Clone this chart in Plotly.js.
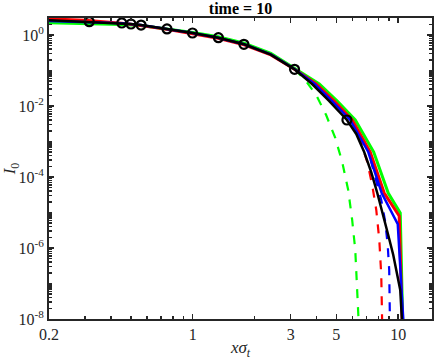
<!DOCTYPE html>
<html>
<head>
<meta charset="utf-8">
<script src="https://cdn.plot.ly/plotly-3.0.1.min.js"></script>
<style>
  body { margin: 0; background: #fff; }
  #chart { width: 436px; height: 360px; }
</style>
</head>
<body>
<div id="chart"></div>
<script>
// values (x = x*sigma_t, y = I_0)
const blackX = [0.2, 0.314, 0.45, 0.5, 0.56, 0.75, 1.0, 1.33, 1.78, 2.4, 3.13, 3.81, 4.62, 5.63, 6.25, 6.83, 7.39, 7.91, 8.46, 8.94, 9.46, 9.89, 10.23, 10.42, 10.45];
const blackY = [2.62, 2.37, 2.18, 2.04, 1.91, 1.48, 1.14, 0.84, 0.547, 0.28, 0.108, 0.0417, 0.0138, 0.00403, 0.00163, 5.06e-4, 1.38e-4, 3.54e-5, 8.5e-6, 2.32e-6, 6.35e-7, 1.98e-7, 6.56e-8, 1e-8, 1e-9];

const redX = [0.2, 0.3, 0.45, 0.56, 0.75, 1.0, 1.33, 1.78, 2.4, 3.13, 3.99, 4.88, 5.97, 7.31, 8.55, 10.11, 10.55, 10.57];
const redY = [2.85, 2.6, 2.15, 1.85, 1.44, 1.1, 0.81, 0.53, 0.275, 0.108, 0.0417, 0.0138, 0.00403, 5.06e-4, 3.54e-5, 8e-6, 1e-8, 1e-9];

const blueX = [0.2, 0.3, 0.45, 0.56, 0.75, 1.0, 1.33, 1.78, 2.4, 3.13, 3.92, 4.77, 5.84, 7.15, 8.31, 9.95, 10.58, 10.6];
const blueY = [2.48, 2.35, 2.15, 1.9, 1.48, 1.14, 0.84, 0.55, 0.285, 0.11, 0.0417, 0.0138, 0.00403, 5.06e-4, 3.54e-5, 4.7e-6, 1e-8, 1e-9];

const greenX = [0.2, 0.3, 0.45, 0.56, 0.75, 1.0, 1.33, 1.78, 2.4, 3.13, 4.13, 5.05, 6.18, 7.6, 8.94, 10.23, 10.58, 10.6];
const greenY = [2.2, 2.1, 1.98, 1.85, 1.5, 1.18, 0.89, 0.59, 0.305, 0.118, 0.0417, 0.0138, 0.00403, 5.06e-4, 3.54e-5, 9.7e-6, 1e-8, 1e-9];

// dashed curves (only the part that leaves the solid ones)
const greenDashX = [3.13, 3.53, 3.99, 4.46, 4.94, 5.34, 5.71, 5.97, 6.18, 6.34, 6.41, 6.42];
const greenDashY = [0.108, 0.054, 0.0204, 0.00558, 1.26e-3, 2.65e-4, 4.3e-5, 6.15e-6, 8.8e-7, 6.6e-8, 1e-8, 1e-9];

const redDashX = [5.97, 6.53, 7.07, 7.47, 7.82, 8.09, 8.27, 8.39, 8.41];
const redDashY = [0.00403, 1.1e-3, 2.65e-4, 5.95e-5, 1.18e-5, 1.68e-6, 1.73e-7, 1e-8, 1e-9];

const blueDashX = [7.35, 7.82, 8.27, 8.65, 8.89, 9.04, 9.15, 9.16];
const blueDashY = [3.0e-4, 8.2e-5, 2.25e-5, 5.4e-6, 1.2e-6, 2.4e-7, 1e-8, 1e-9];

// open circle markers
const markX = [0.314, 0.452, 0.501, 0.561, 0.75, 0.998, 1.334, 1.775, 3.13, 5.63];
const markY = [2.37, 2.18, 2.04, 1.91, 1.48, 1.14, 0.84, 0.547, 0.108, 0.00403];

const xTicks = [0.2, 1, 3, 5, 10];
const xMinor = [0.3, 0.4, 0.5, 0.6, 0.7, 0.8, 0.9, 2, 4, 6, 7, 8, 9];
const yTicks = [1e-8, 1e-6, 1e-4, 1e-2, 1];
const yTickText = ['10<sup>-8</sup>', '10<sup>-6</sup>', '10<sup>-4</sup>', '10<sup>-2</sup>', '10<sup>0</sup>'];

let yMinor = [];
for (let d = -8; d <= 0; d++) {
  for (let m = 1; m <= 9; m++) {
    if (m === 1 && d % 2 === 0) continue;
    yMinor.push(m * Math.pow(10, d));
  }
}

function line(x, y, color, w, dash) {
  return {
    x: x, y: y, type: 'scatter', mode: 'lines',
    line: { color: color, width: w, dash: dash || 'solid' },
    hoverinfo: 'skip', showlegend: false
  };
}

const traces = [
  line(greenDashX, greenDashY, '#00ff00', 2.2, 'dash'),
  line(redDashX, redDashY, '#ff0000', 2.2, 'dash'),
  line(blueDashX, blueDashY, '#0000ff', 2.2, 'dash'),
  line(greenX, greenY, '#00ff00', 3),
  line(redX, redY, '#ff0000', 3),
  line(blueX, blueY, '#0000ff', 2.5),
  line(blackX, blackY, '#000000', 2.5),
  {
    x: markX, y: markY, type: 'scatter', mode: 'markers',
    marker: { symbol: 'circle-open', size: 9, color: '#000', line: { width: 2.2, color: '#000' } },
    hoverinfo: 'skip', showlegend: false
  }
];

const serif = '"Liberation Serif", "Times New Roman", Times, serif';

const layout = {
  width: 436, height: 360,
  margin: { l: 49, r: 4, t: 18, b: 41 },
  paper_bgcolor: '#fff', plot_bgcolor: '#fff',
  font: { family: serif, size: 16, color: '#262626' },
  title: {
    text: '<b>time = 10</b>',
    font: { family: serif, size: 16, color: '#000' },
    x: 0.5, xref: 'paper', xanchor: 'center', y: 0.977, yanchor: 'middle'
  },
  xaxis: {
    type: 'log',
    range: [Math.log10(0.2), Math.log10(14.6)],
    tickmode: 'array', tickvals: xTicks, ticktext: xTicks.map(String),
    ticks: 'inside', ticklen: 5, tickwidth: 1.5, tickcolor: '#262626',
    minor: { tickmode: 'array', tickvals: xMinor, ticks: 'inside', ticklen: 3, tickwidth: 1.5, tickcolor: '#262626', showgrid: false },
    showline: true, linecolor: '#262626', linewidth: 2, mirror: 'ticks',
    showgrid: false, zeroline: false,
    tickfont: { family: serif, size: 16, color: '#262626' },
    title: { text: '<i>xσ<sub>t</sub></i>', font: { family: serif, size: 17, color: '#262626' }, standoff: 6 }
  },
  yaxis: {
    type: 'log',
    range: [-8, 0.479],
    tickmode: 'array', tickvals: yTicks, ticktext: yTickText,
    ticks: 'inside', ticklen: 5, tickwidth: 1.5, tickcolor: '#262626',
    minor: { tickmode: 'array', tickvals: yMinor, ticks: 'inside', ticklen: 3, tickwidth: 1.5, tickcolor: '#262626', showgrid: false },
    showline: true, linecolor: '#262626', linewidth: 2, mirror: 'ticks',
    showgrid: false, zeroline: false,
    tickfont: { family: serif, size: 16, color: '#262626' },
    title: { text: '<i>I</i><sub>0</sub>', font: { family: serif, size: 17, color: '#262626' }, standoff: 1 }
  }
};

Plotly.newPlot('chart', traces, layout, { displayModeBar: false, staticPlot: true });
</script>
</body>
</html>
